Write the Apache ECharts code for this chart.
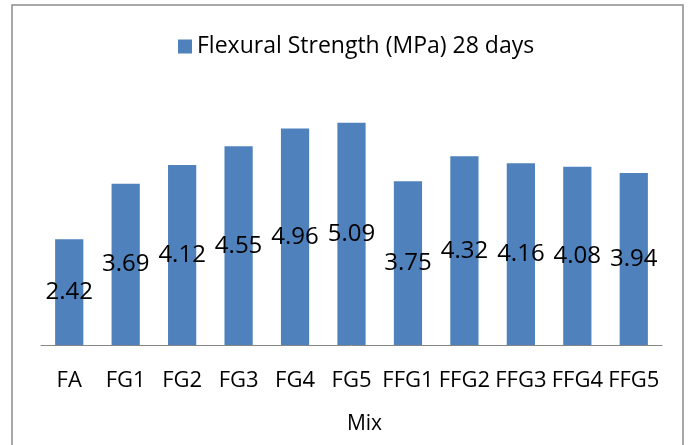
<!DOCTYPE html>
<html>
<head>
<meta charset="utf-8">
<script src="https://cdn.jsdelivr.net/npm/echarts@6/dist/echarts.min.js"></script>
<style>
  html, body { margin: 0; padding: 0; background: #fff; }
  #chart { width: 692px; height: 445px; }
</style>
</head>
<body>
<div id="chart"></div>
<script>
  const mixes = ['FA', 'FG1', 'FG2', 'FG3', 'FG4', 'FG5', 'FFG1', 'FFG2', 'FFG3', 'FFG4', 'FFG5'];
  const flexural28 = [2.42, 3.69, 4.12, 4.55, 4.96, 5.09, 3.75, 4.32, 4.16, 4.08, 3.94];

  const font = 'Open Sans';
  const chart = echarts.init(document.getElementById('chart'));
  chart.setOption({
    animation: false,
    textStyle: { fontFamily: font },
    graphic: [{
      type: 'rect',
      shape: { x: 12, y: 5, width: 671, height: 460 },
      style: { fill: 'none', stroke: '#8c8c8c', lineWidth: 1.5 }
    }],
    legend: {
      left: 173,
      top: 30,
      itemWidth: 14,
      itemHeight: 14,
      icon: 'rect',
      itemGap: 6,
      textStyle: { fontFamily: font, fontSize: 23, color: '#000' },
      data: ['Flexural Strength (MPa) 28 days']
    },
    grid: { left: 41, right: 30, top: 83, bottom: 100 },
    xAxis: {
      type: 'category',
      data: mixes,
      name: 'Mix',
      nameLocation: 'middle',
      nameGap: 69,
      nameTextStyle: { fontFamily: font, fontSize: 21, color: '#000', padding: [0, 0, 0, 26] },
      axisLine: { lineStyle: { color: '#868686', width: 1 } },
      axisTick: { show: false },
      axisLabel: { interval: 0, margin: 25, fontFamily: font, fontSize: 22, color: '#000' }
    },
    yAxis: {
      type: 'value',
      min: 0,
      max: 6,
      show: false
    },
    series: [{
      name: 'Flexural Strength (MPa) 28 days',
      type: 'bar',
      barWidth: '50%',
      data: flexural28,
      itemStyle: { color: '#4f81bd' },
      label: {
        show: true,
        position: 'inside',
        fontFamily: font,
        fontSize: 24,
        color: '#000'
      }
    }]
  });
</script>
</body>
</html>
